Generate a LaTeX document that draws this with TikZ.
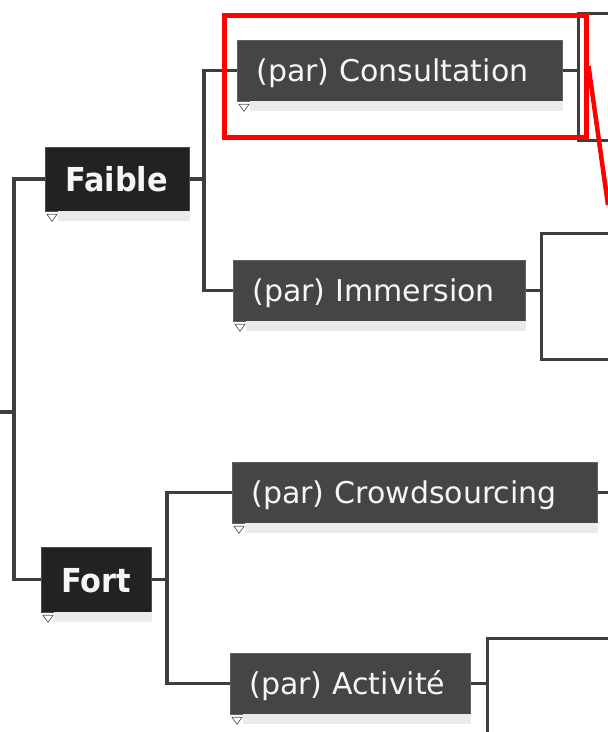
\documentclass[tikz,border=0pt]{standalone}
\usepackage{fontspec}
\setmainfont{DejaVu Sans}
\newfontfamily\headfont[FakeStretch=0.92]{DejaVu Sans Bold}
\definecolor{topfill}{HTML}{222222}
\definecolor{parfill}{HTML}{454545}
\definecolor{linec}{HTML}{3E3E3E}
\definecolor{shadowc}{HTML}{EBEBEB}
\definecolor{txtc}{HTML}{F6F6F6}
\definecolor{redc}{HTML}{FF0000}
\tikzset{
  conn/.style={draw=linec, line width=3.2pt},
  topbox/.style={fill=topfill, draw=topfill!80!white, line width=0.6pt, text=txtc, anchor=west,
    inner xsep=20pt, inner ysep=0pt, align=left, text height=25pt, text depth=0pt,
    font=\fontsize{33}{38}\selectfont\headfont},
  parbox/.style={fill=parfill, draw=parfill!85!white, line width=0.6pt, text=txtc, anchor=west,
    inner xsep=19pt, inner ysep=0pt, minimum height=61pt, align=left, text height=22pt, text depth=0pt,
    font=\fontsize{30}{36}\selectfont},
  childbox/.style={draw=linec, line width=3.2pt, fill=white, anchor=north west, inner sep=0pt},
  shad/.style={fill=shadowc},
  tri/.style={draw=gray!70!black, fill=white, line width=0.7pt},
  hilite/.style={draw=redc, line width=4.5pt}
}
\begin{document}
\begin{tikzpicture}[x=1pt,y=-1pt]
\useasboundingbox[fill=white] (0,0) rectangle (608,732);

% off-screen child boxes
\node[childbox, minimum width=120pt, minimum height=127pt] (c1) at (577,12) {};
\node[childbox, minimum width=120pt, minimum height=126pt] (c2) at (540,232) {};
\node[childbox, minimum width=160pt, minimum height=140pt] (c4) at (486,637) {};

% main nodes
\node[topbox, text width=104pt, minimum height=64pt] (faible) at (45,179) {Faible};
\node[topbox, text width=70pt, minimum height=65pt] (fort) at (41,579.5) {Fort};
\node[parbox, text width=287pt] (consult) at (237,70.5) {(par) Consultation};
\node[parbox, text width=254pt] (immersion) at (233,290.5) {(par) Immersion};
\node[parbox, text width=327pt] (crowd) at (232,492.5) {(par) Crowdsourcing};
\node[parbox, text width=202pt] (activite) at (230,683.5) {(par) Activité};

% shadows and collapse triangles
\foreach \n in {faible,fort,consult,immersion,crowd,activite}{
  \fill[shad] ([xshift=13pt]\n.south west) rectangle ([yshift=-10pt]\n.south east);
  \draw[tri] ([xshift=2pt,yshift=-3pt]\n.south west) -- ++(10pt,0pt) -- ++(-5pt,-7pt) -- cycle;
}

% connectors
\coordinate (root) at (0,412);
\coordinate (tr) at (14,412);
\coordinate (fj) at (204,180);
\coordinate (oj) at (167,581);
\coordinate (crowdend) at (608,492.5);

\draw[conn] (root) -- (tr);
\draw[conn] (faible.west) -| (tr) |- (fort.west);
\draw[conn] (faible.east) -- (fj |- faible.east);
\draw[conn] (consult.west) -| (fj) |- (immersion.west);
\draw[conn] (fort.east) -- (oj |- fort.east);
\draw[conn] (crowd.west) -| (oj) |- (activite.west);
\draw[conn] (consult.east) -- (c1.west |- consult.east);
\draw[conn] (immersion.east) -- (c2.west |- immersion.east);
\draw[conn] (activite.east) -- (c4.west |- activite.east);
\draw[conn] (crowd.east) -- (crowdend);

% red highlight
\node[hilite, anchor=north west, minimum width=362pt, minimum height=122pt, inner sep=0pt] (hl) at (222,13) {};
\coordinate (hlend) at (608,205);
\draw[redc, line width=4.5pt] (hl.east |- 0,66) -- (hlend);
\end{tikzpicture}
\end{document}
